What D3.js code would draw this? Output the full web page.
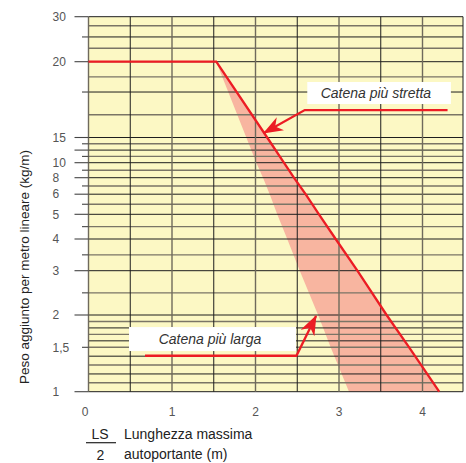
<!DOCTYPE html>
<html>
<head>
<meta charset="utf-8">
<script src="https://cdn.jsdelivr.net/npm/d3@7"></script>
<style>
  body { margin: 0; background: #fff; }
  text { font-family: "Liberation Sans", Arial, sans-serif; }
</style>
</head>
<body>
<div id="chart-area"></div>
<script>
/*
*    nomogramma catena
*/
// y axis values (the printed scale is not uniform)
var yTicks = [30, 20, 15, 10, 8, 6, 5, 4, 3, 2, 1.5, 1];
var yTickLabels = ["30", "20", "15", "10", "8", "6", "5", "4", "3", "2", "1,5", "1"];
var yMinor = [28, 25.5, 23, 19, 18, 16.5, 13.75, 12.5, 11.25, 9, 7, 5.5, 4.5, 3.5, 2.5,
  1.9, 1.8, 1.7, 1.6, 1.4, 1.3, 1.2, 1.1];
var yShortTicks = [25.5, 18, 13.75, 11.25, 9, 7, 5.5, 4.5, 3.5, 2.5];
var xTicks = [0, 1, 2, 3, 4];

// red line: narrower chain
var narrowX = [0, 1.53, 2.14, 2.34, 2.46, 2.60, 2.76, 2.96, 3.22, 3.57, 3.84, 4.20];
var narrowY = [20, 20, 15, 10, 8, 6, 5, 4, 3, 2, 1.5, 1];
// left edge of shaded band: wider chain
var wideX = [1.53, 1.89, 2.01, 2.09, 2.17, 2.26, 2.38, 2.53, 2.75, 2.90, 3.12];
var wideY = [20, 15, 10, 8, 6, 5, 4, 3, 2, 1.5, 1];

var width = 466, height = 463;
var plotLeft = 88.5, plotRight = 463, plotTop = 16.7, plotBottom = 391.7;

var svg = d3.select("#chart-area")
  .append("svg")
  .attr("width", width)
  .attr("height", height);

var x = d3.scaleLinear()
  .domain([0, 4.485])
  .range([plotLeft, plotRight]);

// piecewise scale, calibrated on the printed tick marks
var y = d3.scaleLinear()
  .domain(yTicks)
  .range([0, 45, 120.8, 146, 161, 177.5, 197.6, 222.3, 254, 298.3, 330.6, 375].map(function(d) { return plotTop + d; }));

svg.append("rect")
  .attr("x", plotLeft)
  .attr("y", plotTop)
  .attr("width", plotRight - plotLeft)
  .attr("height", plotBottom - plotTop)
  .attr("fill", "#fcf8c4");

// shaded band between wide and narrow chain
var band = wideX.map(function(d, i) { return [x(d), y(wideY[i])]; });
for (var i = narrowX.length - 1; i >= 1; i--) {
  band.push([x(narrowX[i]), y(narrowY[i])]);
}
svg.append("polygon")
  .attr("points", band.map(function(p) { return p.join(","); }).join(" "))
  .attr("fill", "#f8b5a0");

// grid
var hLines = yTicks.concat(yMinor).sort(function(a, b) { return b - a; });
svg.selectAll(".hgrid")
  .data(hLines)
  .enter().append("line")
  .attr("class", "hgrid")
  .attr("x1", plotLeft)
  .attr("x2", plotRight)
  .attr("y1", function(d) { return y(d); })
  .attr("y2", function(d) { return y(d); })
  .attr("stroke", function(d, i) { return i % 2 ? "#7a7566" : "#1e1e1e"; })
  .attr("stroke-width", function(d, i) { return i % 2 ? 1.4 : 1; });

var vLines = d3.range(0, 4.01, 0.5).concat([4.485]);
svg.selectAll(".vgrid")
  .data(vLines)
  .enter().append("line")
  .attr("class", "vgrid")
  .attr("x1", function(d) { return x(d); })
  .attr("x2", function(d) { return x(d); })
  .attr("y1", plotTop)
  .attr("y2", plotBottom)
  .attr("stroke", function(d, i) { return i % 2 ? "#1e1e1e" : "#6f6a5c"; })
  .attr("stroke-width", function(d, i) { return i % 2 ? 1 : 1.4; });

// y ticks
svg.selectAll(".ytick")
  .data(yTicks.concat([12.5]).concat(yShortTicks))
  .enter().append("line")
  .attr("class", "ytick")
  .attr("x1", function(d) { return yShortTicks.indexOf(d) >= 0 || d === 1.5 ? 82 : 74.5; })
  .attr("x2", plotLeft)
  .attr("y1", function(d) { return y(d); })
  .attr("y2", function(d) { return y(d); })
  .attr("stroke", "#444")
  .attr("stroke-width", 1.1);

svg.selectAll(".ylabel")
  .data(yTicks)
  .enter().append("text")
  .attr("class", "ylabel")
  .attr("x", 52.5)
  .attr("y", function(d) { return y(d); })
  .attr("dy", "0.35em")
  .attr("font-size", "12px")
  .attr("fill", "#555")
  .text(function(d, i) { return yTickLabels[i]; });

svg.selectAll(".xlabel")
  .data(xTicks)
  .enter().append("text")
  .attr("class", "xlabel")
  .attr("x", function(d) { return d === 0 ? x(d) - 3.5 : x(d); })
  .attr("y", 415.5)
  .attr("text-anchor", "middle")
  .attr("font-size", "12px")
  .attr("fill", "#555")
  .text(function(d) { return d; });

// red lines
var line = d3.line()
  .x(function(d) { return x(d[0]); })
  .y(function(d) { return y(d[1]); });

svg.append("path")
  .attr("d", line(narrowX.map(function(d, i) { return [d, narrowY[i]]; })))
  .attr("fill", "none")
  .attr("stroke", "#ec1c24")
  .attr("stroke-width", 2.3);

// arrow marker
svg.append("defs").append("marker")
  .attr("id", "arrow")
  .attr("viewBox", "-19 -8 21 16")
  .attr("markerWidth", 21)
  .attr("markerHeight", 16)
  .attr("markerUnits", "userSpaceOnUse")
  .attr("refX", 0)
  .attr("refY", 0)
  .attr("orient", "auto")
  .append("path")
  .attr("d", "M1,0 L-19,-7.5 L-13,0 L-19,7.5 Z")
  .attr("fill", "#ec1c24");

// label boxes
function note(txt, x0, x1, y0, y1, tx, path) {
  svg.append("rect")
    .attr("x", x(x0))
    .attr("y", y(y0))
    .attr("width", x(x1) - x(x0))
    .attr("height", y(y1) - y(y0))
    .attr("fill", "#fff");
  svg.append("text")
    .attr("x", x(tx))
    .attr("y", (y(y0) + y(y1)) / 2)
    .attr("dy", "0.36em")
    .attr("font-size", "14px")
    .attr("font-style", "italic")
    .attr("fill", "#333")
    .text(txt);
  svg.append("path")
    .attr("d", line(path))
    .attr("fill", "none")
    .attr("stroke", "#ec1c24")
    .attr("stroke-width", 2.3)
    .attr("marker-end", "url(#arrow)");
}

note("Catena più stretta", 2.62, 4.34, 18.66, 17.21, 2.78,
  [[4.30, 16.81], [2.59, 16.81], [2.10, 15.3]]);
note("Catena più larga", 0.485, 2.485, 1.814, 1.458, 0.84,
  [[0.677, 1.405], [2.49, 1.405], [2.725, 1.985]]);

// axis titles
svg.append("text")
  .attr("transform", "translate(29,267) rotate(-90)")
  .attr("text-anchor", "middle")
  .attr("font-size", "13.5px")
  .attr("fill", "#222")
  .text("Peso aggiunto per metro lineare (kg/m)");

svg.append("text")
  .attr("x", 100)
  .attr("y", 439)
  .attr("text-anchor", "middle")
  .attr("font-size", "14px")
  .attr("fill", "#222")
  .text("LS");
svg.append("line")
  .attr("x1", 86)
  .attr("x2", 116)
  .attr("y1", 442.7)
  .attr("y2", 442.7)
  .attr("stroke", "#222")
  .attr("stroke-width", 1.2);
svg.append("text")
  .attr("x", 100.5)
  .attr("y", 460)
  .attr("text-anchor", "middle")
  .attr("font-size", "14px")
  .attr("fill", "#222")
  .text("2");
svg.append("text")
  .attr("x", 124)
  .attr("y", 439)
  .attr("font-size", "14px")
  .attr("fill", "#222")
  .text("Lunghezza massima");
svg.append("text")
  .attr("x", 124)
  .attr("y", 459)
  .attr("font-size", "14px")
  .attr("fill", "#222")
  .text("autoportante (m)");
</script>
</body>
</html>
